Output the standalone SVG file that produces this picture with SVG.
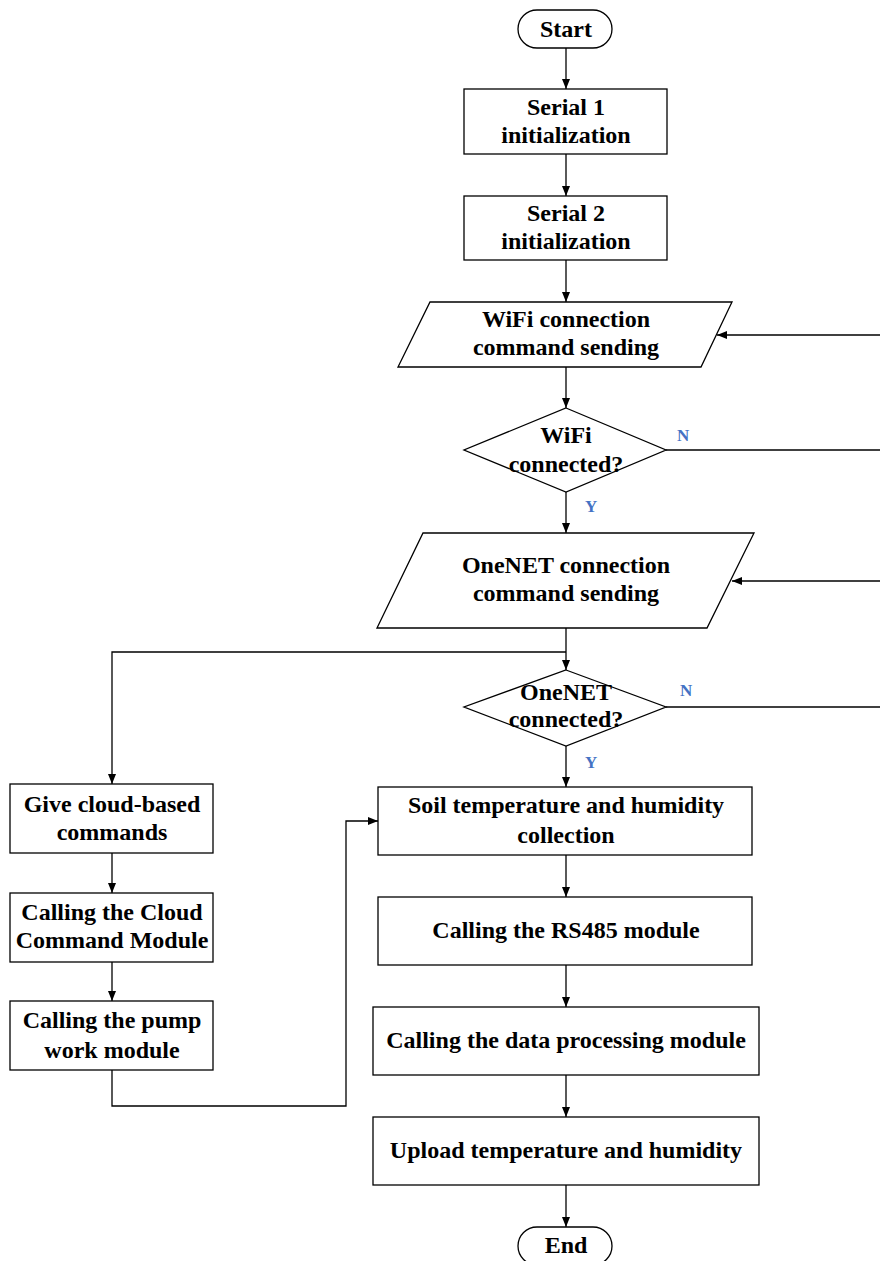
<svg xmlns="http://www.w3.org/2000/svg" width="880" height="1261" viewBox="0 0 880 1261">
<style>
.s{fill:#fff;stroke:#000;stroke-width:1.3}
.t{font-family:"Liberation Serif","Times New Roman",serif;font-weight:bold;font-size:24px;fill:#000;text-anchor:middle}
.l{font-family:"Liberation Serif","Times New Roman",serif;font-weight:bold;font-size:17px;fill:#4472C4}
.c{fill:none;stroke:#000;stroke-width:1.3}
</style>
<defs>
<marker id="a" markerWidth="10" markerHeight="8" refX="10" refY="4" orient="auto" markerUnits="userSpaceOnUse">
<path d="M0,0 L10,4 L0,8 Z" fill="#000"/>
</marker>
</defs>
<rect width="880" height="1261" fill="#fff"/>
<g id="connectors">
<path class="c" d="M566,48 V89" marker-end="url(#a)"/>
<path class="c" d="M566,154 V196" marker-end="url(#a)"/>
<path class="c" d="M566,260 V302" marker-end="url(#a)"/>
<path class="c" d="M880,335 H717" marker-end="url(#a)"/>
<path class="c" d="M566,367 V408" marker-end="url(#a)"/>
<path class="c" d="M666,450 H880"/>
<path class="c" d="M566,492 V533" marker-end="url(#a)"/>
<path class="c" d="M880,581 H732" marker-end="url(#a)"/>
<path class="c" d="M566,628 V670" marker-end="url(#a)"/>
<path class="c" d="M566,652 H112 V784" marker-end="url(#a)"/>
<path class="c" d="M666,707 H880"/>
<path class="c" d="M566,746 V787" marker-end="url(#a)"/>
<path class="c" d="M566,855 V897" marker-end="url(#a)"/>
<path class="c" d="M566,965 V1007" marker-end="url(#a)"/>
<path class="c" d="M566,1075 V1117" marker-end="url(#a)"/>
<path class="c" d="M566,1185 V1227" marker-end="url(#a)"/>
<path class="c" d="M112,853 V893" marker-end="url(#a)"/>
<path class="c" d="M112,962 V1001" marker-end="url(#a)"/>
<path class="c" d="M112,1070 V1106 H346 V821 H378" marker-end="url(#a)"/>
<text class="l" x="677" y="441">N</text>
<text class="l" x="585" y="512">Y</text>
<text class="l" x="680" y="696">N</text>
<text class="l" x="585" y="768">Y</text>
</g>
<g id="start">
<rect class="s" x="518" y="10" width="94" height="38" rx="19"/>
<text class="t" x="566" y="37">Start</text>
</g>
<g id="serial1">
<rect class="s" x="464" y="89" width="203" height="65"/>
<text class="t" x="566" y="115">Serial 1</text>
<text class="t" x="566" y="143">initialization</text>
</g>
<g id="serial2">
<rect class="s" x="464" y="196" width="203" height="64"/>
<text class="t" x="566" y="221">Serial 2</text>
<text class="t" x="566" y="249">initialization</text>
</g>
<g id="wifi-send">
<path class="s" d="M430,302 H732 L701,367 H398 Z"/>
<text class="t" x="566" y="327">WiFi connection</text>
<text class="t" x="566" y="355">command sending</text>
</g>
<g id="wifi-check">
<path class="s" d="M566,408 L666,450 L566,492 L464,450 Z"/>
<text class="t" x="566" y="443">WiFi</text>
<text class="t" x="566" y="472">connected?</text>
</g>
<g id="onenet-send">
<path class="s" d="M423,533 H754 L707,628 H377 Z"/>
<text class="t" x="566" y="573">OneNET connection</text>
<text class="t" x="566" y="601">command sending</text>
</g>
<g id="onenet-check">
<path class="s" d="M566,670 L666,707 L566,746 L464,707 Z"/>
<text class="t" x="566" y="700">OneNET</text>
<text class="t" x="566" y="727">connected?</text>
</g>
<g id="soil">
<rect class="s" x="378" y="787" width="374" height="68"/>
<text class="t" x="566" y="813">Soil temperature and humidity</text>
<text class="t" x="566" y="843">collection</text>
</g>
<g id="rs485">
<rect class="s" x="378" y="897" width="374" height="68"/>
<text class="t" x="566" y="938">Calling the RS485 module</text>
</g>
<g id="dataproc">
<rect class="s" x="373" y="1007" width="386" height="68"/>
<text class="t" x="566" y="1048">Calling the data processing module</text>
</g>
<g id="upload">
<rect class="s" x="373" y="1117" width="386" height="68"/>
<text class="t" x="566" y="1158">Upload temperature and humidity</text>
</g>
<g id="end">
<rect class="s" x="518" y="1227" width="94" height="38" rx="19"/>
<text class="t" x="566" y="1253">End</text>
</g>
<g id="cloud-cmd">
<rect class="s" x="10" y="784" width="203" height="69"/>
<text class="t" x="112" y="812">Give cloud-based</text>
<text class="t" x="112" y="840">commands</text>
</g>
<g id="cloud-module">
<rect class="s" x="10" y="893" width="203" height="69"/>
<text class="t" x="112" y="920">Calling the Cloud</text>
<text class="t" x="112" y="948">Command Module</text>
</g>
<g id="pump">
<rect class="s" x="10" y="1001" width="203" height="69"/>
<text class="t" x="112" y="1028">Calling the pump</text>
<text class="t" x="112" y="1058">work module</text>
</g>
</svg>
